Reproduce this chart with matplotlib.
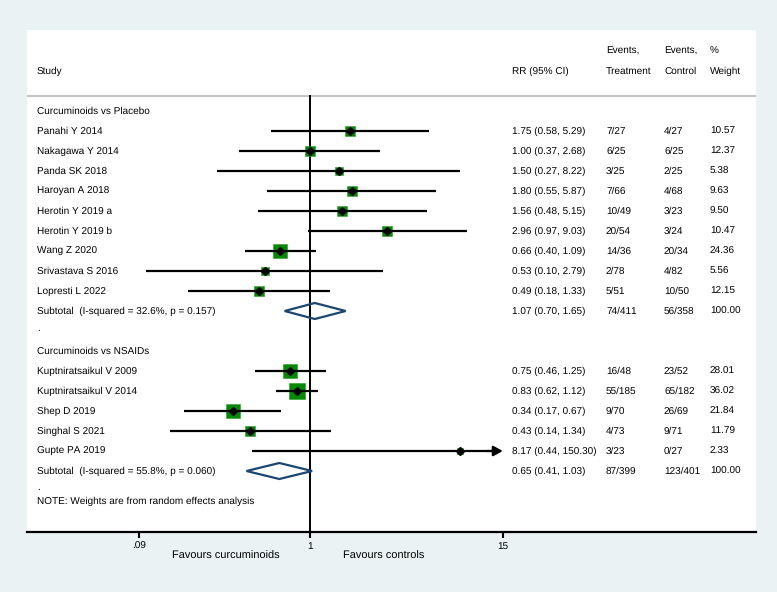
import numpy as np
import matplotlib
matplotlib.use("Agg")
import matplotlib.pyplot as plt
from matplotlib.patches import Polygon
from matplotlib.transforms import blended_transform_factory

plt.rcParams['font.family'] = ['Liberation Sans', 'DejaVu Sans']
plt.rcParams['text.hinting'] = 'no_hinting'
plt.rcParams['text.hinting_factor'] = 1

# ---------------- data ----------------
group_names = ["Curcuminoids vs Placebo", "Curcuminoids vs NSAIDs"]

studies_1 = ["Panahi Y 2014", "Nakagawa Y 2014", "Panda SK 2018", "Haroyan A 2018",
             "Herotin Y 2019 a", "Herotin Y 2019 b", "Wang Z 2020", "Srivastava S 2016",
             "Lopresti L 2022"]
rr_1 = [1.75, 1.00, 1.50, 1.80, 1.56, 2.96, 0.66, 0.53, 0.49]
lo_1 = [0.58, 0.37, 0.27, 0.55, 0.48, 0.97, 0.40, 0.10, 0.18]
hi_1 = [5.29, 2.68, 8.22, 5.87, 5.15, 9.03, 1.09, 2.79, 1.33]
evt_1 = ["7/27", "6/25", "3/25", "7/66", "10/49", "20/54", "14/36", "2/78", "5/51"]
evc_1 = ["4/27", "6/25", "2/25", "4/68", "3/23", "3/24", "20/34", "4/82", "10/50"]
wt_1 = [10.57, 12.37, 5.38, 9.63, 9.50, 10.47, 24.36, 5.56, 12.15]

studies_2 = ["Kuptniratsaikul V 2009", "Kuptniratsaikul V 2014", "Shep D 2019",
             "Singhal S 2021", "Gupte PA 2019"]
rr_2 = [0.75, 0.83, 0.34, 0.43, 8.17]
lo_2 = [0.46, 0.62, 0.17, 0.14, 0.44]
hi_2 = [1.25, 1.12, 0.67, 1.34, 150.30]
evt_2 = ["16/48", "55/185", "9/70", "4/73", "3/23"]
evc_2 = ["23/52", "65/182", "26/69", "9/71", "0/27"]
wt_2 = [28.01, 36.02, 21.84, 11.79, 2.33]

sub_labels = ["Subtotal  (I-squared = 32.6%, p = 0.157)",
              "Subtotal  (I-squared = 55.8%, p = 0.060)"]
sub_rr = [1.07, 0.65]
sub_lo = [0.70, 0.41]
sub_hi = [1.65, 1.03]
sub_evt = ["74/411", "87/399"]
sub_evc = ["56/358", "123/401"]

xticks = [0.09, 1, 15]
xtick_labels = [".09", "1", "15"]
x_clip = 15

# ---------------- figure ----------------
W, H = 777, 592
fig = plt.figure(figsize=(W / 100, H / 100), dpi=100, facecolor="#eaf2f3")
L, R, T, B = 27, 756, 30, 532
ax = fig.add_axes([L / W, 1 - B / H, (R - L) / W, (B - T) / H])
ax.set_facecolor("white")
ax.set_xscale("log")
px_per_ln = 71.2
x1px = 310
ax.set_xlim(np.exp((L - x1px) / px_per_ln), np.exp((R - x1px) / px_per_ln))
y0px, rowpx = 111, 20
ax.set_ylim((B - y0px) / rowpx, (T - y0px) / rowpx)

for s in ["top", "left", "right"]:
    ax.spines[s].set_visible(False)
ax.spines["bottom"].set_linewidth(1.6)
ax.set_yticks([])
ax.set_xticks(xticks)
ax.set_xticklabels(xtick_labels)
ax.minorticks_off()
ax.tick_params(axis="x", direction="out", length=4.5, width=1.5, labelsize=7.2, pad=2.5)

TXT = 7.2
trans = blended_transform_factory(ax.transAxes, ax.transData)
col_study = (37 - L) / (R - L)
col_rr = (512 - L) / (R - L)
col_t = (606 - L) / (R - L)
col_c = (664 - L) / (R - L)
col_w = (710 - L) / (R - L)


def txt(x, y, s, **kw):
    ax.text(x, y, s, transform=trans, fontsize=TXT, va="center", ha="left",
            color="black", **kw)


# header
txt(col_study, -2, "Study")
txt(col_rr, -2, "RR (95% CI)")
txt(col_t, -3, "Events,")
txt(col_t, -2, "Treatment")
txt(col_c, -3, "Events,")
txt(col_c, -2, "Control")
txt(col_w, -3, "%")
txt(col_w, -2, "Weight")
ax.axhline(-0.75, color="#c4c4c4", lw=1.5)

# null line
ax.plot([1, 1], [-0.75, ax.get_ylim()[0]], color="black", lw=1.4, zorder=2)

groups = [
    (studies_1, rr_1, lo_1, hi_1, evt_1, evc_1, wt_1),
    (studies_2, rr_2, lo_2, hi_2, evt_2, evc_2, wt_2),
]

row = 0
for g, (names, rr, lo, hi, et, ec, wt) in enumerate(groups):
    txt(col_study, row, group_names[g])
    row += 1
    for i in range(len(names)):
        y = row
        txt(col_study, y, names[i])
        txt(col_rr, y, f"{rr[i]:.2f} ({lo[i]:.2f}, {hi[i]:.2f})")
        txt(col_t, y, et[i])
        txt(col_c, y, ec[i])
        txt(col_w, y, f"{wt[i]:.2f}")
        side_px = 2.4 * np.sqrt(wt[i]) + 2
        ax.plot(rr[i], y, marker="s", ms=side_px * 0.72, color="#008a00",
                mec="#2a9a2a", mew=0.4, zorder=3)
        if hi[i] > x_clip:
            ax.plot([lo[i], x_clip * 0.93], [y, y], color="black", lw=1.6, zorder=4,
                    solid_capstyle="butt")
            ax.annotate("", xy=(x_clip, y), xytext=(x_clip * 0.8, y),
                        arrowprops=dict(arrowstyle="-|>,head_length=0.55,head_width=0.3",
                                        color="black", lw=1.6, shrinkA=0, shrinkB=0),
                        zorder=4)
        else:
            ax.plot([lo[i], hi[i]], [y, y], color="black", lw=1.6, zorder=4,
                    solid_capstyle="butt")
        ax.plot(rr[i], y, marker="D", ms=3.6, color="black", zorder=5)
        row += 1
    # subtotal
    y = row
    txt(col_study, y, sub_labels[g])
    txt(col_rr, y, f"{sub_rr[g]:.2f} ({sub_lo[g]:.2f}, {sub_hi[g]:.2f})")
    txt(col_t, y, sub_evt[g])
    txt(col_c, y, sub_evc[g])
    txt(col_w, y, "100.00")
    hh = 0.4
    diamond = Polygon([(sub_lo[g], y), (sub_rr[g], y - hh), (sub_hi[g], y),
                       (sub_rr[g], y + hh)], closed=True, facecolor="none",
                      edgecolor="#1a476f", lw=1.6, zorder=4)
    ax.add_patch(diamond)
    row += 1
    if g == 0:
        txt(col_study, row - 0.15, ".")
        row += 1

txt(col_study, row - 0.05 - 0.15, ".")
txt(col_study, row + 0.55 - 0.05, "NOTE: Weights are from random effects analysis")

# favours labels
tb = blended_transform_factory(ax.transData, ax.transAxes)
fy = (B - 556) / (B - T)
ax.text(np.exp((226 - x1px) / px_per_ln), fy, "Favours curcuminoids", transform=tb,
        ha="center", va="center", fontsize=8, color="black")
ax.text(np.exp((384 - x1px) / px_per_ln), fy, "Favours controls", transform=tb,
        ha="center", va="center", fontsize=8, color="black")

fig.savefig("out.png", dpi=100, facecolor=fig.get_facecolor())
